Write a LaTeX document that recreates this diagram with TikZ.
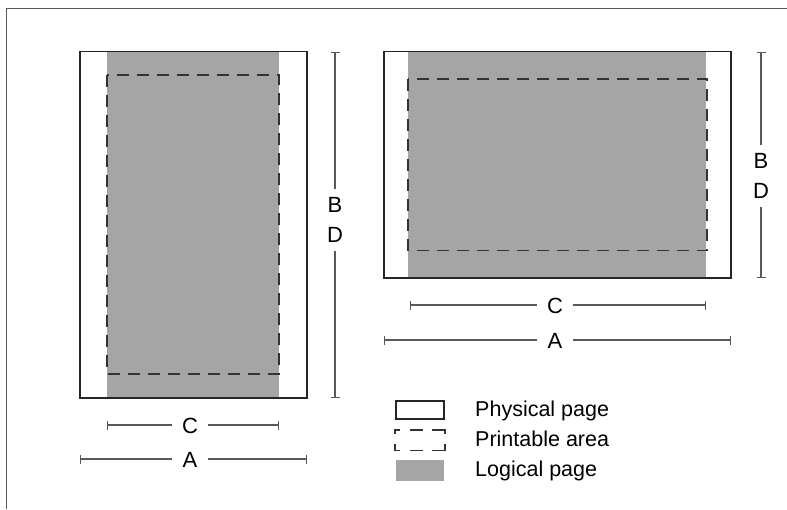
\documentclass[tikz,border=0pt]{standalone}
\usepackage{fontspec}
\setmainfont{Liberation Sans}
\usetikzlibrary{arrows.meta}
\definecolor{logicalgray}{HTML}{A5A5A5}
\begin{document}
\begin{tikzpicture}[x=1pt,y=-1pt,
  phys/.style={draw=black!85,line width=1.8pt},
  logical/.style={fill=logicalgray},
  printable/.style={draw=black!80,line width=1.3pt,dash pattern=on 12pt off 8pt},
  dimline/.style={draw=black!65,line width=1.1pt},
  hdim/.style={dimline,{Bar[width=9pt,line width=1.1pt]}-},
  lbl/.style={font=\fontsize{22}{30}\selectfont,inner sep=0pt},
  dimlbl/.style={lbl,inner xsep=10pt,inner ysep=4pt},
  leglbl/.style={font=\fontsize{21.5}{24}\selectfont,inner sep=0pt,anchor=base west}
]
\useasboundingbox (0,0) rectangle (787,509);
% outer frame
\draw[line width=1.8pt,draw=black!65] (6.5,509) -- (6.5,8.5) -- (787,8.5);

% ---- left (portrait) page
\fill[logical] (107,51.5) rectangle (279,398);
\draw[printable] (107,75) rectangle (279,374);
\draw[phys] (80,51.5) rectangle (307,398);

\coordinate (lvt) at (335,51.5);
\coordinate (lvb) at (335,398);
\node[lbl,align=center,inner ysep=8pt] (bdL) at (335,220) {B\\D};
\draw[hdim] (lvt) -- (bdL.north);
\draw[hdim] (lvb) -- (bdL.south);

\coordinate (lcl) at (107,425);
\coordinate (lcr) at (279,425);
\node[dimlbl] (cL) at (190,426) {C};
\draw[hdim] (lcl) -- (cL.west |- lcl);
\draw[hdim] (lcr) -- (cL.east |- lcr);

\coordinate (lal) at (80,459);
\coordinate (lar) at (307,459);
\node[dimlbl] (aL) at (190,460) {A};
\draw[hdim] (lal) -- (aL.west |- lal);
\draw[hdim] (lar) -- (aL.east |- lar);

% ---- right (landscape) page
\fill[logical] (408,51.5) rectangle (706,278);
\draw[printable] (408,79) rectangle (707,250.5);
\draw[phys] (384,51.5) rectangle (731,278);

\coordinate (rvt) at (761,51.5);
\coordinate (rvb) at (761,278);
\node[lbl,align=center,inner ysep=8pt] (bdR) at (761,176) {B\\D};
\draw[hdim] (rvt) -- (bdR.north);
\draw[hdim] (rvb) -- (bdR.south);

\coordinate (rcl) at (410,305);
\coordinate (rcr) at (706,305);
\node[dimlbl] (cR) at (555,306) {C};
\draw[hdim] (rcl) -- (cR.west |- rcl);
\draw[hdim] (rcr) -- (cR.east |- rcr);

\coordinate (ral) at (384,340);
\coordinate (rar) at (731,340);
\node[dimlbl] (aR) at (555,341) {A};
\draw[hdim] (ral) -- (aR.west |- ral);
\draw[hdim] (rar) -- (aR.east |- rar);

% ---- legend
\draw[phys] (396,401) rectangle (444,419);
\begin{scope}[draw=black!80,line width=1.3pt]
  \draw (395,434) -- (395,430) -- (400,430);
  \draw (410,430) -- (423,430);
  \draw (432,430) -- (445,430) -- (445,434);
  \draw (395,444) -- (395,450.5) -- (400,450.5);
  \draw (410,450.5) -- (423,450.5);
  \draw (432,450.5) -- (445,450.5) -- (445,444);
\end{scope}
\fill[logical] (396,460) rectangle (444,481);

\node[leglbl] (lp) at (475,416.5) {Physical page};
\node[leglbl] (lpa) at (475,446.5) {Printable area};
\node[leglbl] (llp) at (475,476.5) {Logical page};
\end{tikzpicture}
\end{document}
